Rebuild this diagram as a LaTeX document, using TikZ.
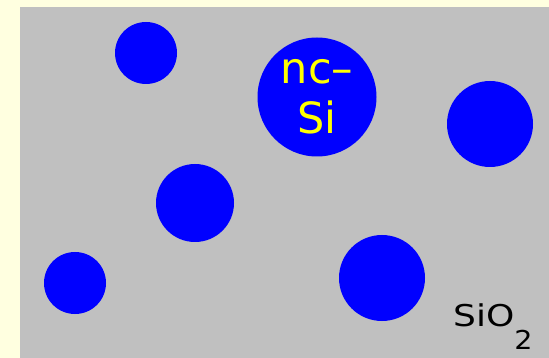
\documentclass[tikz,border=0pt]{standalone}
\usepackage{fontspec}
\setmainfont{DejaVu Sans}
\usepackage{tikz}
\usetikzlibrary{positioning}
\definecolor{paper}{HTML}{FFFFE0}
\definecolor{oxide}{HTML}{C0C0C0}
\definecolor{dotblue}{HTML}{0000FF}
\definecolor{dotlabel}{HTML}{FFFF00}

\begin{document}
\begin{tikzpicture}[
  x=1pt, y=-1pt,
  grain/.style={circle, fill=dotblue, inner sep=0pt, minimum size=#1},
  lbl/.style={inner sep=0pt, align=center}]
\useasboundingbox[fill=paper] (0,0) rectangle (549,358);
\fill[oxide] (20,7) rectangle (549,358);
% nanocrystals
\node[grain=62] (g1) at (146,53) {};
\node[grain=119, lbl, text=dotlabel, font=\fontsize{43}{50}\selectfont] (big) at (317,97) {nc–\\Si};
\node[grain=86] (g3) at (490,124) {};
\node[grain=78] (g4) at (195,203) {};
\node[grain=62] (g5) at (75,283) {};
\node[grain=86] (g6) at (382,278) {};
% matrix label
\node[lbl, anchor=base west, font=\fontsize{30}{36}\selectfont] (oxlbl) at (453,326)
  {\scalebox{1.2}[1]{SiO}\raisebox{-23pt}{\fontsize{26}{30}\selectfont\scalebox{1.1}[1]{2}}};
\end{tikzpicture}
\end{document}
